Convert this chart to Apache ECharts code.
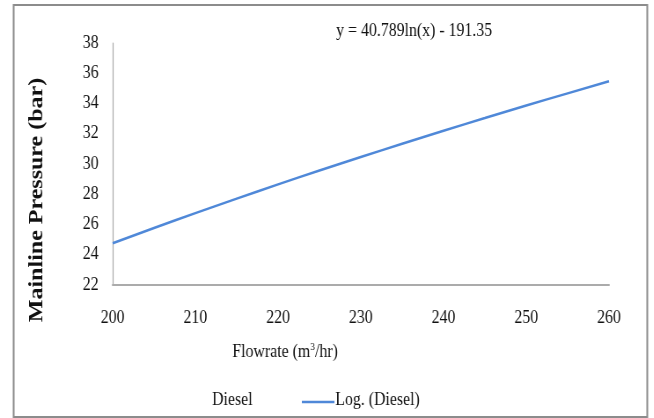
<!DOCTYPE html>
<html>
<head>
<meta charset="utf-8">
<script src="https://cdn.jsdelivr.net/npm/echarts@6/dist/echarts.min.js"></script>
<style>
  html, body { margin: 0; padding: 0; background: #ffffff; overflow: hidden; }
  #wrap { width: 654px; height: 418px; overflow: hidden; }
  /* the chart is laid out wider and condensed horizontally to a 654px frame */
  #chart { width: 743px; height: 418px; transform: scaleX(0.88); transform-origin: 0 0; }
</style>
</head>
<body>
<div id="wrap"><div id="chart"></div></div>
<script>
// Logarithmic trendline of mainline pressure against flowrate (diesel)
const flowrate = [200, 205, 210, 215, 220, 225, 230, 235, 240, 245, 250, 255, 260];
const pressure = [24.76, 25.77, 26.75, 27.71, 28.65, 29.57, 30.46, 31.34, 32.20, 33.04, 33.87, 34.67, 35.47];
const xTicks = [200, 210, 220, 230, 240, 250, 260];
const yTicks = [22, 24, 26, 28, 30, 32, 34, 36, 38];
const equationText = 'y = 40.789ln(x) - 191.35';

const serif = '"Liberation Serif", "Times New Roman", serif';
const lineColor = '#4f88d8';
const chart = echarts.init(document.getElementById('chart'), null, { renderer: 'canvas' });

chart.setOption({
  animation: false,
  backgroundColor: '#ffffff',
  grid: { left: 128, top: 43, right: 51, bottom: 133, containLabel: false },
  xAxis: {
    type: 'value',
    min: xTicks[0],
    max: xTicks[xTicks.length - 1],
    interval: 10,
    axisLine: { show: true, lineStyle: { color: '#ababab', width: 2 } },
    axisTick: { show: false },
    splitLine: { show: false },
    axisLabel: { color: '#111', fontFamily: serif, fontSize: 18, margin: 24 }
  },
  yAxis: {
    type: 'value',
    min: yTicks[0],
    max: yTicks[yTicks.length - 1],
    interval: 2,
    axisLine: { show: true, lineStyle: { color: '#ababab', width: 1.2 } },
    axisTick: { show: false },
    splitLine: { show: false },
    axisLabel: { color: '#111', fontFamily: serif, fontSize: 18, margin: 16 }
  },
  legend: { show: false },
  series: [
    {
      name: 'Log. (Diesel)',
      type: 'line',
      data: flowrate.map((f, i) => [f, pressure[i]]),
      showSymbol: false,
      smooth: true,
      lineStyle: { color: lineColor, width: 2.5 }
    }
  ],
  graphic: [
    {
      type: 'rect',
      shape: { x: 15.5, y: 5, width: 720, height: 412 },
      style: { fill: 'none', stroke: '#8c8c8c', lineWidth: 2 },
      silent: true
    },
    {
      type: 'text',
      left: 382, top: 22,
      style: { text: equationText, fill: '#111', font: '18px ' + serif }
    },
    {
      type: 'text',
      x: 42, y: 200, rotation: Math.PI / 2,
      style: {
        text: 'Mainline Pressure (bar)', fill: '#111',
        font: 'bold 24px ' + serif, align: 'center', verticalAlign: 'middle'
      }
    },
    {
      type: 'text',
      left: 264, top: 342,
      style: {
        text: '{a|Flowrate (m}{s|3}{a|/hr)}',
        rich: {
          a: { fontFamily: serif, fontSize: 18, fill: '#111', verticalAlign: 'bottom' },
          s: { fontFamily: serif, fontSize: 11, fill: '#111', verticalAlign: 'top', padding: [0, 0, 8, 0] }
        }
      }
    },
    {
      type: 'text',
      left: 241, top: 391,
      style: { text: 'Diesel', fill: '#111', font: '18px ' + serif }
    },
    {
      type: 'line',
      shape: { x1: 343, y1: 402, x2: 380, y2: 402 },
      style: { stroke: lineColor, lineWidth: 2.5 }
    },
    {
      type: 'text',
      left: 381, top: 391,
      style: { text: 'Log. (Diesel)', fill: '#111', font: '18px ' + serif }
    }
  ]
});
</script>
</body>
</html>
